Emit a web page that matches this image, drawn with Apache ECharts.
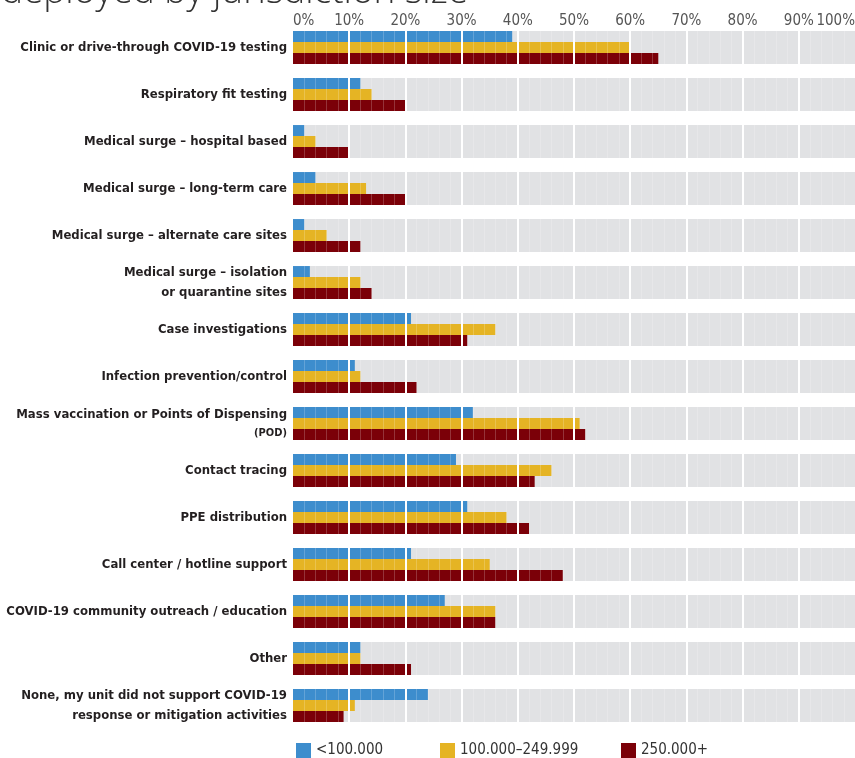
<!DOCTYPE html>
<html>
<head>
<meta charset="utf-8">
<script src="https://cdn.jsdelivr.net/npm/echarts@6/dist/echarts.min.js"></script>
<style>
  html, body { margin: 0; padding: 0; background: #fff; }
  #chart { width: 855px; height: 758px; }
</style>
</head>
<body>
<div id="chart"></div>
<script>
// activity categories, top to bottom
const categories = [
  'Clinic or drive-through COVID-19 testing',
  'Respiratory fit testing',
  'Medical surge – hospital based',
  'Medical surge – long-term care',
  'Medical surge – alternate care sites',
  'Medical surge – isolation\nor quarantine sites',
  'Case investigations',
  'Infection prevention/control',
  'Mass vaccination or Points of Dispensing\n{s|(POD)}',
  'Contact tracing',
  'PPE distribution',
  'Call center / hotline support',
  'COVID-19 community outreach / education',
  'Other',
  'None, my unit did not support COVID-19\nresponse or mitigation activities'
]

const seriesNames = ['<100.000', '100.000–249.999', '250.000+']
const small = [39, 12, 2, 4, 2, 3, 21, 11, 32, 29, 31, 21, 27, 12, 24]
const medium = [60, 14, 4, 13, 6, 12, 36, 12, 51, 46, 38, 35, 36, 12, 11]
const large = [65, 20, 10, 20, 12, 14, 31, 22, 52, 43, 42, 48, 36, 21, 9]

const xTicks = [0, 10, 20, 30, 40, 50, 60, 70, 80, 90, 100]

const colors = ['#3d8dcd', '#e5b424', '#7b0008']
const narrow = "'Liberation Sans Narrow', 'DejaVu Sans Condensed', sans-serif"

const chart = echarts.init(document.getElementById('chart'))

function makeSeries(name, data, color) {
  return {
    name,
    type: 'bar',
    data,
    barGap: 0,
    barCategoryGap: '30%',
    itemStyle: { color },
    showBackground: true,
    backgroundStyle: { color: '#e1e2e4' },
    animation: false
  }
}

chart.setOption({
  animation: false,
  color: colors,
  graphic: [{
    type: 'text',
    left: 1,
    top: -26,
    style: {
      text: 'deployed by jurisdiction size',
      fontFamily: "'Open Sans', sans-serif",
      fontWeight: 300,
      fontSize: 37,
      fill: '#333'
    }
  }],
  grid: {
    left: 293, right: 0, top: 24, bottom: 29,
    containLabel: false,
    outerBoundsMode: 'none'
  },
  legend: [0, 1, 2].map((i) => ({
    data: [seriesNames[i]],
    left: [296, 440, 621][i],
    top: 743,
    padding: 0,
    itemWidth: 15,
    itemHeight: 15,
    itemGap: 6,
    icon: 'rect',
    selectedMode: false,
    textStyle: { fontFamily: narrow, fontSize: 15, color: '#333' }
  })),
  xAxis: {
    type: 'value',
    position: 'top',
    min: 0,
    max: 100,
    interval: 10,
    z: 5,
    axisLine: { show: false },
    axisTick: { show: false },
    axisLabel: {
      formatter: (v) => xTicks.includes(v) ? v + '%' : '',
      fontFamily: narrow,
      fontSize: 15,
      color: '#555',
      margin: -5,
      showMaxLabel: true,
      alignMinLabel: 'left',
      alignMaxLabel: 'right'
    },
    splitLine: {
      show: true,
      showMinLine: false,
      showMaxLine: false,
      lineStyle: { color: '#ffffff', width: 2 }
    },
    minorTick: { show: false, splitNumber: 5 },
    minorSplitLine: {
      show: true,
      lineStyle: { color: 'rgba(255,255,255,0.2)', width: 1 }
    }
  },
  yAxis: {
    type: 'category',
    data: categories,
    inverse: true,
    axisLine: { show: false },
    axisTick: { show: false },
    splitLine: { show: false },
    axisLabel: {
      fontFamily: narrow,
      fontWeight: 'bold',
      fontSize: 13,
      lineHeight: 20,
      color: '#231f20',
      margin: 6,
      rich: {
        s: { fontFamily: narrow, fontWeight: 'bold', fontSize: 11, lineHeight: 18, color: '#231f20' }
      }
    }
  },
  series: [
    makeSeries(seriesNames[0], small, colors[0]),
    makeSeries(seriesNames[1], medium, colors[1]),
    makeSeries(seriesNames[2], large, colors[2])
  ]
})
</script>
</body>
</html>
